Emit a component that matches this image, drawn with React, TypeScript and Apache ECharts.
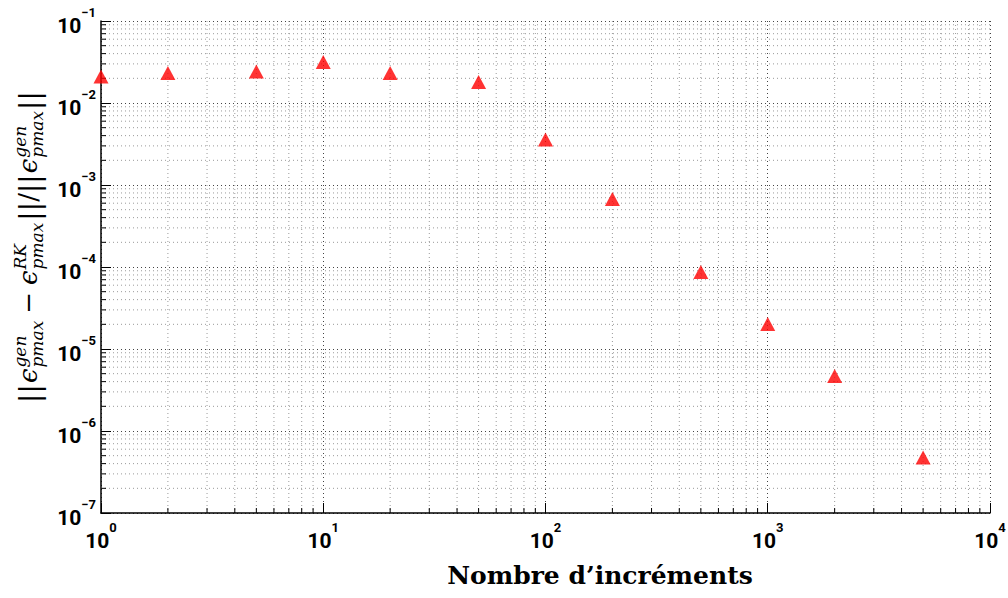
import React, { useEffect, useRef } from 'react';
import * as echarts from 'echarts';

// ---- data ----
const increments = [1, 2, 5, 10, 20, 50, 100, 200, 500, 1000, 2000, 5000];
const relativeError = [2.1e-2, 2.32e-2, 2.42e-2, 3.16e-2, 2.32e-2, 1.8e-2, 3.59e-3, 6.75e-4, 8.7e-5, 2.02e-5, 4.69e-6, 4.75e-7];

// ---- axes ----
const xMin = 1;
const xMax = 1e4;
const yMin = 1e-7;
const yMax = 1e-1;
const minorMantissas = [2, 3, 4, 5, 6, 7, 8, 9];
const xDecadeStarts = [1, 10, 100, 1000];
const yDecadeStarts = [1e-7, 1e-6, 1e-5, 1e-4, 1e-3, 1e-2];

const xTitle = 'Nombre d’incréments';

const SANS = 'Roboto';
const SERIF = 'DejaVu Serif';

const xMinor = xDecadeStarts.flatMap((d) => minorMantissas.map((m) => d * m));
const yMinor = yDecadeStarts.flatMap((d) => minorMantissas.map((m) => d * m));

function powLabel(v: number) {
  const e = Math.round(Math.log10(v));
  const s = e < 0 ? '−' + Math.abs(e) : String(e);
  return `{b|10}{e|${s}}`;
}

const makeRich = (fam: string) => ({
  b: { fontFamily: fam, fontWeight: 'bold', fontSize: 21, lineHeight: 30, verticalAlign: 'bottom', color: '#000' },
  e: { fontFamily: fam, fontWeight: 'bold', fontSize: 13, lineHeight: 21, verticalAlign: 'top', color: '#000' },
});

function buildYTitle() {
  const canvas = document.createElement('canvas');
  const ctx = canvas.getContext('2d')!;
  const measure = (t: string, size: number, italic: boolean) => {
    ctx.font = `${italic ? 'italic ' : ''}${size}px DejaVu Serif`;
    return ctx.measureText(t).width;
  };
  const BIG = 26;
  const BAR = 28;
  const SMALL = 17;
  const children: any[] = [];
  let x = 0;
  const put = (text: string, size: number, italic: boolean, baseline: number, at: number) => {
    children.push({
      type: 'text',
      x: at,
      y: baseline - 0.35 * size,
      style: {
        text,
        fontSize: size,
        fontFamily: SERIF,
        fontStyle: italic ? 'italic' : 'normal',
        fill: '#000',
        align: 'left',
        verticalAlign: 'middle',
      },
    });
    return measure(text, size, italic);
  };
  const bars = () => {
    x += put('||', BAR, false, 2, x);
  };
  const eps = (sup: string, sub: string) => {
    x += put('ϵ', BIG, true, 0, x) + 1;
    const w1 = put(sup, SMALL, true, -11, x);
    const w2 = put(sub, SMALL, true, 6, x);
    x += Math.max(w1, w2);
  };
  bars();
  x += 1;
  eps('gen', 'pmax');
  x += 7;
  x += put('−', BIG, false, 0, x);
  x += 7;
  eps('RK', 'pmax');
  x += 2;
  bars();
  x += put('/', BIG, false, 0, x);
  bars();
  x += 1;
  eps('gen', 'pmax');
  x += 1;
  bars();
  const L = x;
  return {
    type: 'group',
    x: 37,
    y: 247 + L / 2,
    rotation: Math.PI / 2,
    silent: true,
    children,
  };
}

function buildOption(): any {
  return {
    animation: false,
    backgroundColor: '#ffffff',
    grid: { left: 101, right: 18, top: 21, bottom: 85, containLabel: false, outerBoundsMode: 'none' },
    xAxis: {
      type: 'log',
      logBase: 10,
      min: xMin,
      max: xMax,
      splitNumber: 4,
      axisLine: { show: true, lineStyle: { color: '#000', width: 1.5 } },
      axisTick: { show: true, inside: true, length: 10, lineStyle: { color: '#000', width: 1 } },
      minorTick: { show: false },
      splitLine: { show: true, lineStyle: { color: '#444', width: 1, type: [1, 3] } },
      axisLabel: { margin: 8, fontFamily: SANS, fontWeight: 'bold', formatter: powLabel, rich: makeRich(SANS) },
    },
    yAxis: {
      type: 'log',
      logBase: 10,
      min: yMin,
      max: yMax,
      splitNumber: 6,
      axisLine: { show: true, lineStyle: { color: '#000', width: 1.5 } },
      axisTick: { show: true, inside: true, length: 10, lineStyle: { color: '#000', width: 1 } },
      minorTick: { show: false },
      splitLine: { show: true, lineStyle: { color: '#444', width: 1, type: [1, 3] } },
      axisLabel: { margin: 5, fontFamily: SANS, fontWeight: 'bold', formatter: powLabel, rich: makeRich(SANS) },
    },
    graphic: [
      buildYTitle(),
      {
        type: 'text',
        x: 600,
        y: 575,
        silent: true,
        style: {
          text: xTitle,
          fontSize: 25,
          fontWeight: 'bold',
          fontFamily: SERIF,
          fill: '#000',
          align: 'center',
          verticalAlign: 'middle',
        },
      },
    ],
    series: [
      {
        type: 'custom',
        name: 'xMinorGrid',
        silent: true,
        clip: false,
        z: 1,
        data: xMinor.map((v) => [v, yMin]),
        renderItem: (params: any, api: any) => {
          const cs = params.coordSys;
          const p = api.coord([api.value(0), api.value(1)]);
          const bottom = cs.y + cs.height;
          return {
            type: 'group',
            children: [
              { type: 'line', shape: { x1: p[0], y1: cs.y, x2: p[0], y2: bottom }, style: { stroke: '#9a9a9a', lineWidth: 1, lineDash: [1, 3] } },
              { type: 'line', shape: { x1: p[0], y1: bottom, x2: p[0], y2: bottom - 5 }, style: { stroke: '#000', lineWidth: 1 } },
            ],
          };
        },
      },
      {
        type: 'custom',
        name: 'yMinorGrid',
        silent: true,
        clip: false,
        z: 1,
        data: yMinor.map((v) => [xMin, v]),
        renderItem: (params: any, api: any) => {
          const cs = params.coordSys;
          const p = api.coord([api.value(0), api.value(1)]);
          return {
            type: 'group',
            children: [
              { type: 'line', shape: { x1: cs.x, y1: p[1], x2: cs.x + cs.width, y2: p[1] }, style: { stroke: '#9a9a9a', lineWidth: 1, lineDash: [1, 3] } },
              { type: 'line', shape: { x1: cs.x, y1: p[1], x2: cs.x + 5, y2: p[1] }, style: { stroke: '#000', lineWidth: 1 } },
            ],
          };
        },
      },
      {
        type: 'scatter',
        name: 'erreur relative',
        z: 5,
        symbol: 'triangle',
        symbolSize: [15, 14],
        itemStyle: { color: '#ff0000' },
        data: increments.map((x, i) => [x, relativeError[i]]),
      },
    ],
  };
}

export default function App() {
  const ref = useRef<HTMLDivElement>(null);
  useEffect(() => {
    const chart = echarts.init(ref.current!, undefined, { renderer: 'svg' });
    chart.setOption(buildOption());
    return () => chart.dispose();
  }, []);
  return (
    <div
      ref={ref}
      style={{ position: 'fixed', left: 0, top: 0, width: 1008, height: 598, background: '#fff' }}
    />
  );
}
